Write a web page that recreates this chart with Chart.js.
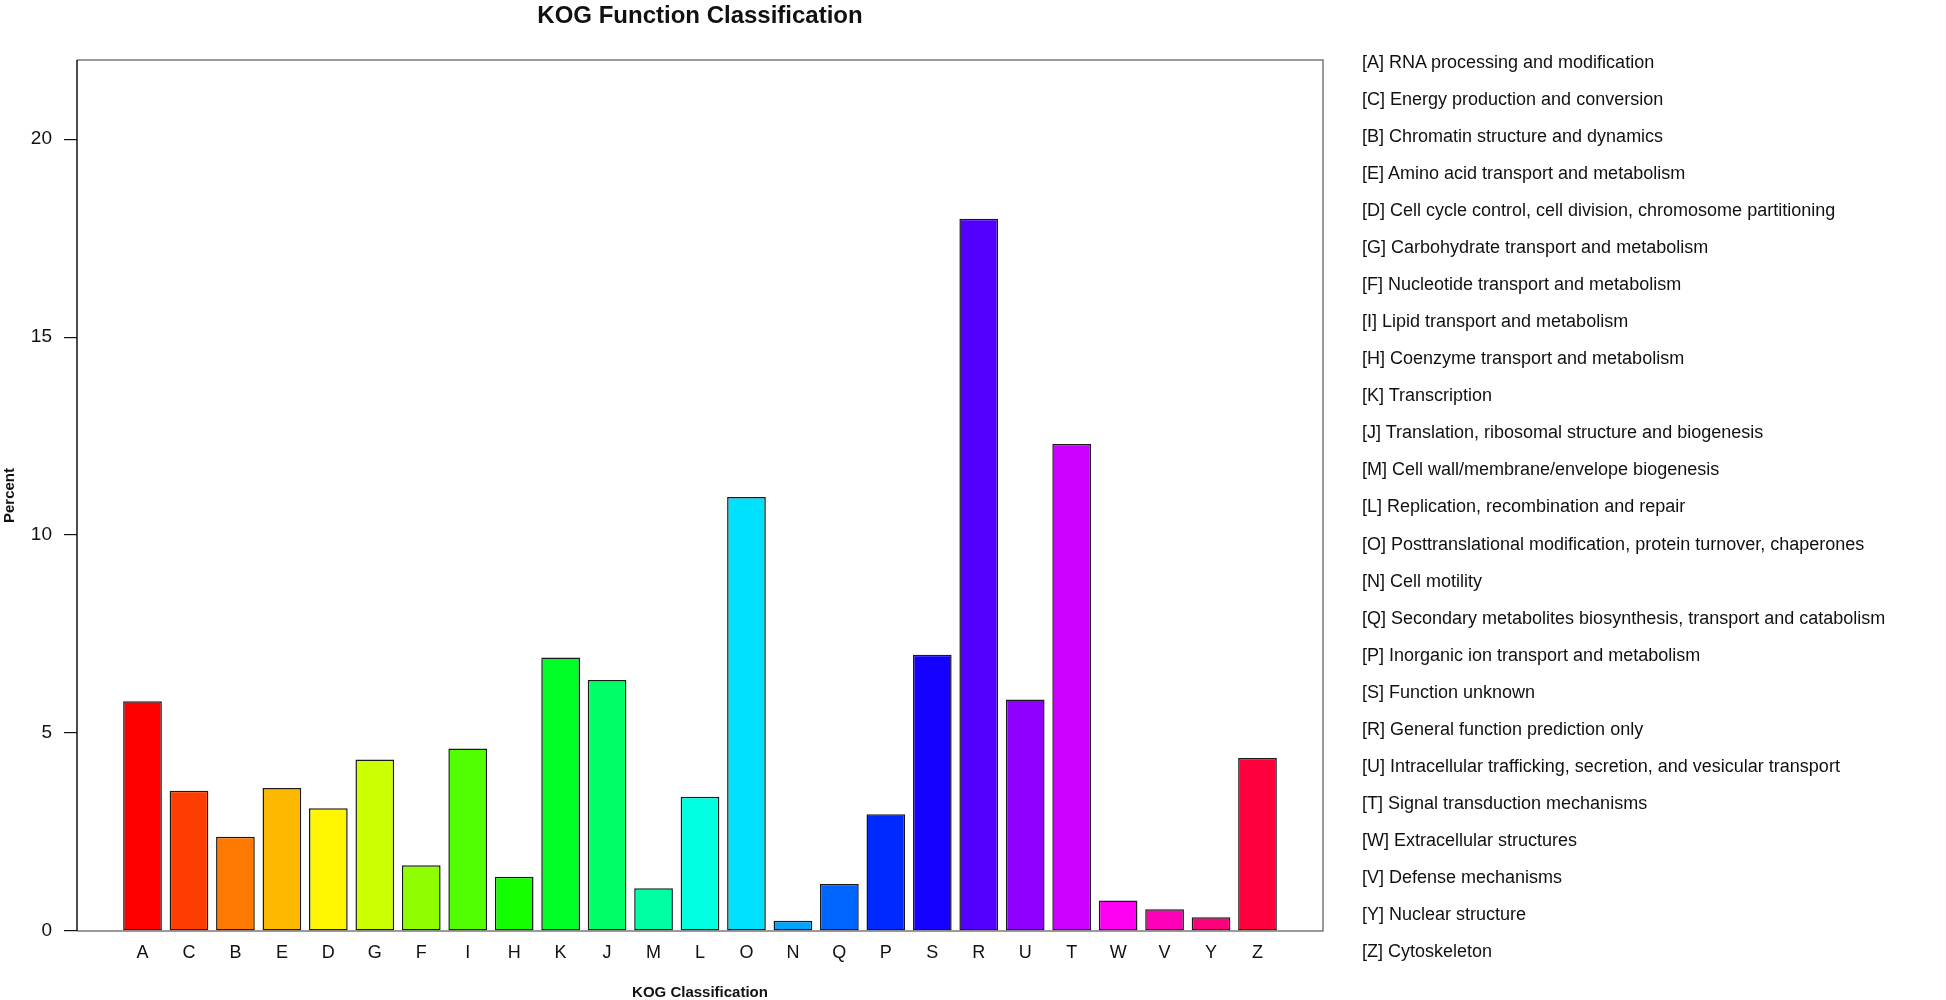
<!DOCTYPE html>
<html>
<head>
<meta charset="utf-8">
<title>KOG Function Classification</title>
<script src="https://cdn.jsdelivr.net/npm/chart.js@4.4.1/dist/chart.umd.min.js"></script>
<style>
    body { margin: 0; background: #fff; }
    #wrap { position: relative; width: 1946px; height: 1000px; }
    #kogLegend {
        position: absolute;
        left: 1362px;
        top: 43.5px;
        margin: 0;
        padding: 0;
        list-style: none;
        font-family: "Liberation Sans", Arial, sans-serif;
        font-size: 18px;
        line-height: 37.08px;
        color: #111;
        white-space: nowrap;
    }
</style>
</head>
<body>
<div id="wrap">
    <canvas id="kogChart"></canvas>
    <ul id="kogLegend"></ul>
</div>
<script>
// KOG letters, in the order of the bars
const categories = ['A','C','B','E','D','G','F','I','H','K','J','M','L','O','N','Q','P','S','R','U','T','W','V','Y','Z'];

// percent of genes in each class
const percent = [5.80, 3.54, 2.38, 3.61, 3.10, 4.33, 1.66, 4.61, 1.37, 6.91, 6.34, 1.08, 3.39,
                 10.96, 0.26, 1.19, 2.95, 6.98, 17.99, 5.85, 12.30, 0.77, 0.55, 0.35, 4.37];

// legend descriptions (same order as categories)
const descriptions = [
    'RNA processing and modification',
    'Energy production and conversion',
    'Chromatin structure and dynamics',
    'Amino acid transport and metabolism',
    'Cell cycle control, cell division, chromosome partitioning',
    'Carbohydrate transport and metabolism',
    'Nucleotide transport and metabolism',
    'Lipid transport and metabolism',
    'Coenzyme transport and metabolism',
    'Transcription',
    'Translation, ribosomal structure and biogenesis',
    'Cell wall/membrane/envelope biogenesis',
    'Replication, recombination and repair',
    'Posttranslational modification, protein turnover, chaperones',
    'Cell motility',
    'Secondary metabolites biosynthesis, transport and catabolism',
    'Inorganic ion transport and metabolism',
    'Function unknown',
    'General function prediction only',
    'Intracellular trafficking, secretion, and vesicular transport',
    'Signal transduction mechanisms',
    'Extracellular structures',
    'Defense mechanisms',
    'Nuclear structure',
    'Cytoskeleton'
];

const yTicks = [0, 5, 10, 15, 20];

// rainbow palette, one colour per bar
const barColors = ['#FF0000','#FF3D00','#FF7A00','#FFB800','#FFF500','#CCFF00','#8FFF00','#52FF00','#14FF00',
                   '#00FF29','#00FF66','#00FFA3','#00FFE0','#00E0FF','#00A3FF','#0066FF','#0029FF','#1400FF',
                   '#5200FF','#8F00FF','#CC00FF','#FF00F5','#FF00B8','#FF007A','#FF003D'];

const fontFamily = '"Liberation Sans", Arial, sans-serif';

// legend on the right as plain text rows
const legendList = document.getElementById('kogLegend');
for (let i = 0; i < categories.length; i++) {
    const li = document.createElement('li');
    li.textContent = `[${categories[i]}] ${descriptions[i]}`;
    legendList.appendChild(li);
}

// grey frame round the plot area
const frameBox = {
    id: 'frameBox',
    afterDatasetsDraw(chart) {
        const a = chart.chartArea;
        const ctx = chart.ctx;
        ctx.save();
        ctx.strokeStyle = '#7a7a7a';
        ctx.lineWidth = 1.5;
        ctx.beginPath();
        ctx.moveTo(a.left, a.bottom);
        ctx.lineTo(a.right, a.bottom);
        ctx.lineTo(a.right, a.top);
        ctx.lineTo(a.left, a.top);
        ctx.stroke();
        // y axis line in black
        ctx.strokeStyle = '#111';
        ctx.beginPath();
        ctx.moveTo(a.left, a.top);
        ctx.lineTo(a.left, a.bottom);
        ctx.stroke();
        ctx.restore();
    }
};

new Chart(document.getElementById('kogChart'), {
    type: 'bar',
    data: {
        datasets: [{
            label: 'Percent',
            data: categories.map((c, i) => ({ x: i, y: percent[i] })),
            backgroundColor: barColors,
            borderColor: '#1a1a1a',
            borderWidth: 1.5,
            borderSkipped: false,
            categoryPercentage: 1,
            barPercentage: 1 / 1.2
        }]
    },
    plugins: [frameBox],
    options: {
        responsive: true,
        maintainAspectRatio: false,
        animation: false,
        layout: { padding: { left: 0, top: 0, right: 623, bottom: 0 } },
        plugins: {
            legend: { display: false },
            tooltip: { enabled: false },
            title: {
                display: true,
                text: 'KOG Function Classification',
                fullSize: false,
                color: '#111',
                font: { family: fontFamily, size: 24, weight: 'bold', lineHeight: 1.2 },
                padding: { top: 2, bottom: 29.2 }
            }
        },
        scales: {
            x: {
                type: 'linear',
                offset: false,
                min: -1.41,
                max: 25.41,
                afterBuildTicks: (scale) => {
                    scale.ticks = categories.map((c, i) => ({ value: i }));
                },
                afterFit: (scale) => { scale.height = 69; },
                ticks: {
                    autoSkip: false,
                    maxRotation: 0,
                    padding: 11,
                    color: '#111',
                    font: { family: fontFamily, size: 18 },
                    callback: (v) => categories[v]
                },
                grid: { display: false, drawTicks: false },
                border: { display: false },
                title: {
                    display: true,
                    text: 'KOG Classification',
                    color: '#111',
                    font: { family: fontFamily, size: 15, weight: 'bold', lineHeight: 1 },
                    padding: { top: 0, bottom: 0 }
                }
            },
            y: {
                min: 0,
                max: 22,
                afterBuildTicks: (scale) => {
                    scale.ticks = yTicks.map(v => ({ value: v }));
                },
                afterFit: (scale) => { scale.width = 77; },
                ticks: {
                    padding: 12,
                    color: '#111',
                    font: { family: fontFamily, size: 19 }
                },
                grid: {
                    drawOnChartArea: false,
                    drawTicks: true,
                    tickLength: 13,
                    color: '#111',
                    lineWidth: 1.2
                },
                border: { display: false },
                title: {
                    display: true,
                    text: 'Percent',
                    color: '#111',
                    font: { family: fontFamily, size: 15, weight: 'bold', lineHeight: 1.2 },
                    padding: { top: 1, bottom: 0 }
                }
            }
        }
    }
});
</script>
</body>
</html>
